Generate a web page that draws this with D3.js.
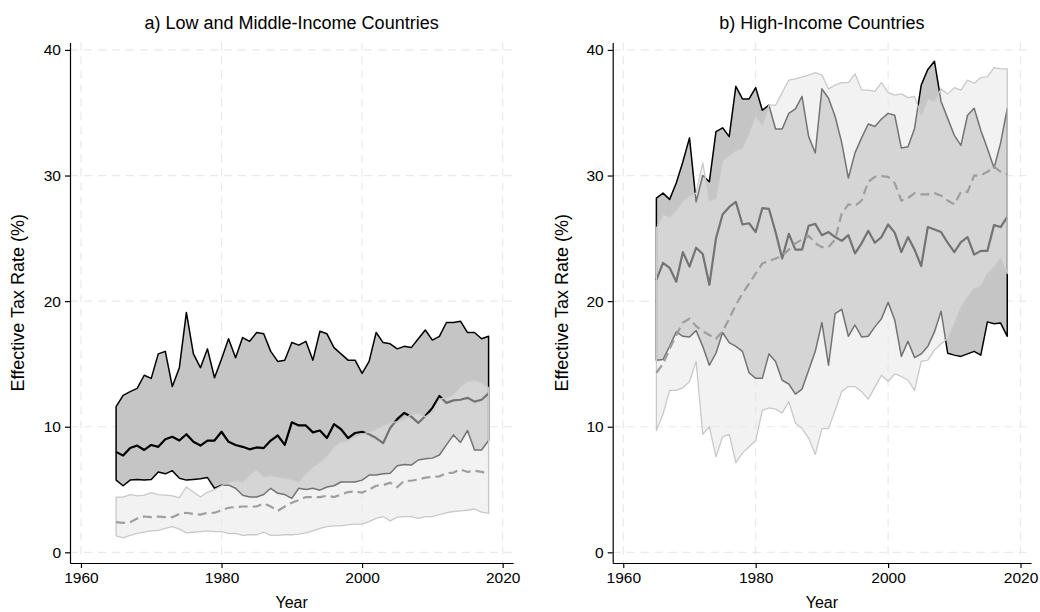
<!DOCTYPE html>
<html>
<head>
<meta charset="utf-8">
<script src="https://cdn.jsdelivr.net/npm/d3@7"></script>
<style>
  body { margin: 0; background: #fff; }
  svg text { font-family: "Liberation Sans", Arial, sans-serif; fill: #000; }
</style>
</head>
<body>
<script>
// years on the x axis
var years = [1965,1966,1967,1968,1969,1970,1971,1972,1973,1974,
             1975,1976,1977,1978,1979,1980,1981,1982,1983,1984,
             1985,1986,1987,1988,1989,1990,1991,1992,1993,1994,
             1995,1996,1997,1998,1999,2000,2001,2002,2003,2004,
             2005,2006,2007,2008,2009,2010,2011,2012,2013,2014,
             2015,2016,2017,2018];

// panel a) low and middle income: dark band (black lines) and light band (dashed median)
var lmicDarkHi = [11.6,12.5,12.8,13.05,14.1,13.85,15.8,16.0,13.2,14.7,
                  19.1,15.8,14.7,16.2,13.9,15.4,17.0,15.5,17.1,16.8,
                  17.5,17.4,16.0,15.2,15.3,16.7,16.5,16.8,15.3,17.6,
                  17.4,16.3,15.8,15.3,15.3,14.25,15.2,17.5,16.7,16.6,
                  16.2,16.4,16.3,17.0,17.7,16.9,17.2,18.3,18.3,18.4,
                  17.5,17.5,17.0,17.2];
var lmicDarkMed = [8.0,7.7,8.3,8.5,8.15,8.55,8.4,9.0,9.2,8.9,
                   9.4,8.8,8.5,8.9,8.9,9.6,8.8,8.55,8.4,8.2,
                   8.35,8.3,8.9,9.3,8.55,10.35,10.1,10.1,9.55,9.7,
                   9.1,10.2,9.8,9.1,9.5,9.6,9.4,9.1,8.7,9.9,
                   10.6,11.1,10.8,10.3,10.85,11.5,12.45,11.9,12.1,12.15,
                   12.3,12.0,12.15,12.65];
var lmicDarkLo = [5.75,5.3,5.75,5.8,5.75,5.8,6.4,6.25,6.5,5.9,
                  5.75,5.8,5.85,5.95,5.1,5.35,5.35,5.1,4.55,4.4,
                  4.4,4.6,5.1,4.7,4.6,4.3,5.1,5.0,5.1,4.95,
                  5.2,5.3,5.6,5.6,5.6,5.75,6.15,6.15,6.25,6.3,
                  6.9,7.0,6.95,7.35,7.45,7.5,7.75,8.55,9.35,8.75,
                  9.7,8.15,8.15,8.9];
var lmicLightHi = [4.4,4.4,4.6,4.5,4.55,4.75,4.6,4.55,4.5,4.35,
                   5.2,4.8,4.4,4.8,5.0,5.3,5.6,5.7,5.6,6.2,
                   6.6,6.0,6.1,6.0,5.9,5.8,5.6,6.3,6.8,7.2,
                   7.7,8.4,8.8,8.9,9.2,9.4,9.6,9.8,10.1,10.3,
                   10.4,10.6,11.0,11.1,10.8,11.2,12.2,12.3,12.6,13.2,
                   13.6,13.7,13.5,13.1];
var lmicLightMed = [2.4,2.35,2.4,2.7,2.85,2.8,2.85,2.8,2.8,3.05,
                    3.15,3.05,3.0,3.15,3.15,3.35,3.55,3.6,3.65,3.65,
                    3.65,3.9,3.65,3.3,3.65,3.95,4.15,4.4,4.4,4.4,
                    4.5,4.4,4.6,4.8,4.85,4.75,5.0,5.3,5.35,5.55,
                    5.2,5.7,5.7,5.8,5.95,6.0,6.05,6.3,6.35,6.6,
                    6.4,6.5,6.4,6.25];
var lmicLightLo = [1.3,1.15,1.35,1.5,1.6,1.7,1.75,1.9,2.05,1.85,
                   1.55,1.6,1.65,1.7,1.65,1.65,1.5,1.5,1.35,1.4,
                   1.4,1.6,1.35,1.35,1.4,1.4,1.45,1.55,1.7,1.9,
                   2.05,2.1,2.1,2.2,2.25,2.25,2.45,2.7,2.85,2.5,
                   2.8,2.85,2.85,2.7,2.85,2.85,3.0,3.15,3.25,3.3,
                   3.35,3.45,3.2,3.1];

// panel b) high income
var hicDarkHi = [28.2,28.6,28.1,29.4,31.1,33.0,27.9,30.0,29.5,33.5,
                 33.8,33.1,37.1,36.1,36.1,37.0,35.2,35.6,33.7,33.7,
                 34.95,35.3,36.3,33.1,31.8,36.9,36.15,34.7,32.6,29.8,
                 31.8,33.0,34.1,33.9,34.5,34.95,34.8,32.2,32.3,33.75,
                 37.2,38.45,39.1,35.9,34.55,33.2,32.4,34.8,35.35,33.6,
                 32.15,30.6,32.6,35.35];
var hicDarkMed = [21.7,23.05,22.65,21.55,23.9,22.75,24.25,23.75,21.3,25.0,
                  26.9,27.5,27.9,26.1,26.2,25.5,27.4,27.35,25.5,23.4,
                  25.35,24.1,24.1,26.0,26.15,25.25,25.5,25.1,24.8,25.25,
                  23.8,24.6,25.6,24.65,25.1,26.1,25.45,23.9,25.1,24.1,
                  22.8,25.9,25.7,25.5,24.65,23.9,24.7,25.1,23.7,24.0,
                  24.0,26.05,25.9,26.7];
var hicDarkLo = [15.3,15.35,16.4,17.55,17.2,17.15,17.65,16.4,14.9,15.85,
                 17.5,16.7,16.4,16.0,14.3,13.85,13.85,15.8,15.2,13.7,
                 13.4,12.6,13.0,14.5,16.0,18.3,14.9,19.0,19.35,17.2,
                 18.1,17.15,17.2,17.95,18.6,19.9,18.5,15.6,16.8,15.5,
                 15.8,16.4,17.55,19.2,15.85,15.7,15.6,15.8,16.0,15.7,
                 18.35,18.2,18.25,17.2];
var hicLightHi = [25.8,26.9,26.7,27.2,28.0,28.4,28.6,31.0,28.0,28.2,
                  31.2,31.6,32.0,32.2,33.4,34.8,34.0,35.6,35.6,36.6,
                  37.6,37.7,37.85,38.0,38.2,38.0,36.9,37.2,37.4,37.4,
                  38.1,36.8,36.8,36.7,37.4,36.6,36.4,36.5,36.2,36.3,
                  34.8,36.1,35.9,36.9,36.5,37.0,36.8,37.6,37.35,37.8,
                  37.85,38.6,38.5,38.5];
var hicLightMed = [14.3,15.0,16.2,17.3,18.3,18.6,18.0,17.6,17.3,17.0,
                   17.6,18.6,19.7,20.6,21.4,22.2,23.0,23.2,23.4,23.6,
                   24.1,24.6,24.9,25.2,24.6,24.3,24.3,24.9,27.0,27.7,
                   27.6,28.0,29.5,29.9,29.95,29.9,29.4,28.0,28.2,28.6,
                   28.5,28.5,28.6,28.4,28.0,27.7,28.7,28.7,30.0,30.0,
                   30.3,30.7,30.3,30.1];
var hicLightLo = [9.7,11.0,12.9,12.9,13.1,13.6,15.2,9.4,10.0,7.6,
                  9.2,9.4,7.15,7.9,8.4,8.9,11.3,11.5,11.4,11.1,
                  12.0,10.3,9.85,9.1,7.8,9.85,9.85,11.3,12.8,13.2,
                  13.2,12.8,12.2,13.15,14.1,13.6,14.2,14.0,13.7,12.9,
                  15.2,15.3,16.1,16.6,17.0,18.2,19.5,20.3,21.0,21.2,
                  22.2,22.7,23.4,22.2];

var yTicks = [0, 10, 20, 30, 40];
var xTicks = [1960, 1980, 2000, 2020];
var titles = ["a) Low and Middle-Income Countries", "b) High-Income Countries"];
var yLabel = "Effective Tax Rate (%)";
var xLabel = "Year";

var w = 1040, h = 612;
var svg = d3.select("body").append("svg").attr("width", w).attr("height", h);

// layout of the two panels
var panels = [
  {title: titles[0], hi: lmicDarkHi, med: lmicDarkMed, lo: lmicDarkLo,
   lhi: lmicLightHi, lmed: lmicLightMed, llo: lmicLightLo,
   left: 70, right: 513.2, xDom: [1958.44, 2021.5], labelX: 18},
  {title: titles[1], hi: hicDarkHi, med: hicDarkMed, lo: hicDarkLo,
   lhi: hicLightHi, lmed: hicLightMed, llo: hicLightLo,
   left: 612.7, right: 1031.1, xDom: [1958.4, 2021.6], labelX: 562}
];

var plotTop = 42.4, plotBottom = 563;

panels.forEach(function(p) {
  var g = svg.append("g");
  var x = d3.scaleLinear().domain(p.xDom).range([p.left, p.right]);
  var y = d3.scaleLinear().domain([-0.85, 40.6]).range([plotBottom, plotTop]);

  // dashed grid
  g.selectAll(".hg").data(yTicks).enter().append("line")
    .attr("x1", p.left).attr("x2", p.right)
    .attr("y1", function(d) { return y(d); }).attr("y2", function(d) { return y(d); })
    .attr("stroke", "#e9e9e9").attr("stroke-width", 1.2).attr("stroke-dasharray", "8,6");
  g.selectAll(".vg").data(xTicks).enter().append("line")
    .attr("y1", plotTop).attr("y2", plotBottom)
    .attr("x1", function(d) { return x(d); }).attr("x2", function(d) { return x(d); })
    .attr("stroke", "#e9e9e9").attr("stroke-width", 1.2).attr("stroke-dasharray", "8,6");

  var rows = years.map(function(yr, i) {
    return {yr: yr, hi: p.hi[i], med: p.med[i], lo: p.lo[i],
            lhi: p.lhi[i], lmed: p.lmed[i], llo: p.llo[i]};
  });

  var darkArea = d3.area()
    .x(function(d) { return x(d.yr); })
    .y0(function(d) { return y(d.lo); })
    .y1(function(d) { return y(d.hi); });
  var lightArea = d3.area()
    .x(function(d) { return x(d.yr); })
    .y0(function(d) { return y(d.llo); })
    .y1(function(d) { return y(d.lhi); });
  var medLine = d3.line().x(function(d) { return x(d.yr); }).y(function(d) { return y(d.med); });
  var lmedLine = d3.line().x(function(d) { return x(d.yr); }).y(function(d) { return y(d.lmed); });

  // dark band with black outline and median
  g.append("path").datum(rows).attr("d", darkArea)
    .attr("fill", "#c5c5c5").attr("stroke", "#000").attr("stroke-width", 1.5)
    .attr("stroke-linejoin", "round");
  g.append("path").datum(rows).attr("d", medLine)
    .attr("fill", "none").attr("stroke", "#000").attr("stroke-width", 2.2)
    .attr("stroke-linejoin", "round");

  // light band on top, half transparent
  g.append("path").datum(rows).attr("d", lightArea)
    .attr("fill", "#e6e6e6").attr("fill-opacity", 0.5)
    .attr("stroke", "#c9c9c9").attr("stroke-width", 1.3)
    .attr("stroke-linejoin", "round");
  g.append("path").datum(rows).attr("d", lmedLine)
    .attr("fill", "none").attr("stroke", "#9e9e9e").attr("stroke-width", 2.2)
    .attr("stroke-dasharray", "9,5");

  // axes
  var xAxis = g.append("g").attr("transform", "translate(0," + plotBottom + ")")
    .call(d3.axisBottom(x).tickValues(xTicks).tickSize(5).tickSizeOuter(0).tickPadding(4)
      .tickFormat(d3.format("d")));
  var yAxis = g.append("g").attr("transform", "translate(" + p.left + ",0)")
    .call(d3.axisLeft(y).tickValues(yTicks).tickSize(5).tickSizeOuter(0).tickPadding(4));
  [xAxis, yAxis].forEach(function(a) {
    a.attr("font-family", null).attr("font-size", null);
    a.selectAll("text").style("font-size", "15.5px").style("fill", "#000");
    a.select(".domain").attr("stroke", "#000").attr("stroke-width", 1.2);
    a.selectAll(".tick line").attr("stroke", "#000").attr("stroke-width", 1.2);
  });

  var cx = (p.left + p.right) / 2;
  g.append("text").attr("x", cx).attr("y", 29).attr("text-anchor", "middle")
    .style("font-size", "18px").text(p.title);
  g.append("text").attr("x", cx).attr("y", 608).attr("text-anchor", "middle")
    .style("font-size", "16px").text(xLabel);
  g.append("text")
    .attr("transform", "translate(" + p.labelX + "," + ((plotTop + plotBottom) / 2) + ") rotate(-90)")
    .attr("dy", "0.35em").attr("text-anchor", "middle")
    .style("font-size", "18px").text(yLabel);
});
</script>
</body>
</html>
